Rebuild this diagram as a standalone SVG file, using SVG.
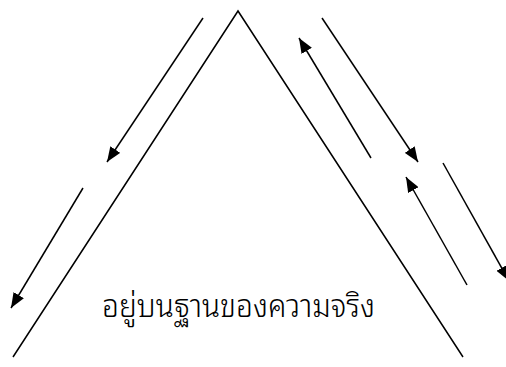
<svg xmlns="http://www.w3.org/2000/svg" width="506" height="367" viewBox="0 0 506 367">
<defs>
<style>
.ln{stroke:#000;stroke-width:1.5;fill:none}
.tx{font-family:"Noto Sans Thai Looped","Loma","Garuda","Noto Sans Thai","Noto Sans",sans-serif;font-size:31px;font-weight:300;fill:#000}
</style>
<marker id="ah2" viewBox="0 0 15 12" refX="15" refY="6" markerWidth="15" markerHeight="12" markerUnits="userSpaceOnUse" orient="auto">
<path d="M0,0 L15,6 L0,12 z" fill="#000"/>
</marker>
</defs>
<rect width="506" height="367" fill="#fff"/>
<g id="triangle">
<polyline class="ln" points="13,357 238,11 463,357"/>
</g>
<g id="label">
<text class="tx" x="102" y="317" textLength="273" lengthAdjust="spacingAndGlyphs">อยู่บนฐานของความจริง</text>
</g>
<g id="connectors">
<line class="ln" x1="203" y1="18" x2="107" y2="162" marker-end="url(#ah2)"/>
<line class="ln" x1="83" y1="188" x2="11" y2="308" marker-end="url(#ah2)"/>
<line class="ln" x1="371" y1="158" x2="299" y2="38" marker-end="url(#ah2)"/>
<line class="ln" x1="322" y1="18" x2="418" y2="162" marker-end="url(#ah2)"/>
<line class="ln" x1="467" y1="285" x2="406" y2="177" marker-end="url(#ah2)"/>
<line class="ln" x1="443" y1="163" x2="509" y2="281" marker-end="url(#ah2)"/>
</g>
</svg>
